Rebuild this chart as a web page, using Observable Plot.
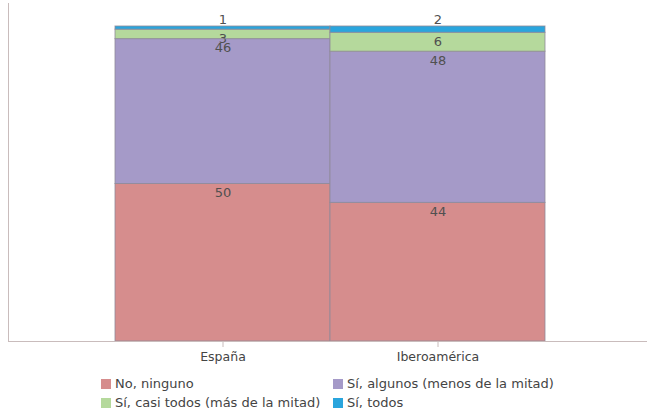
<!DOCTYPE html>
<html>
<head>
<meta charset="utf-8">
<script src="https://cdn.jsdelivr.net/npm/d3@7"></script>
<script src="https://cdn.jsdelivr.net/npm/@observablehq/plot@0.6"></script>
<style>
  body { margin: 0; background: #fff; font-family: "DejaVu Sans", Verdana, sans-serif; }
  #chart svg { display: block; }
  .legend { position: relative; height: 44px; font-size: 13px; color: #444; }
  .item { position: absolute; display: flex; align-items: center; white-space: nowrap; }
  .sw { width: 10px; height: 10px; margin-right: 4px; }
</style>
</head>
<body>
<div id="chart"></div>
<div class="legend" id="legend"></div>
<script>
const regions = ["España", "Iberoamérica"];
const answers = ["No, ninguno", "Sí, algunos (menos de la mitad)", "Sí, casi todos (más de la mitad)", "Sí, todos"];
const espana = [50, 46, 3, 1];
const iberoamerica = [44, 48, 6, 2];
const colors = ["#d68d8d", "#a59ac8", "#b5d99c", "#2aa5dd"];

const seriesByRegion = [espana, iberoamerica];
const data = [];
regions.forEach((r, i) => answers.forEach((a, j) => data.push({region: r, answer: a, value: seriesByRegion[i][j]})));

const W = 647, H = 368;
const chart = Plot.plot({
  width: W,
  height: H,
  marginLeft: 8,
  marginRight: 0,
  marginTop: 3,
  marginBottom: 27,
  style: {fontFamily: "DejaVu Sans, Verdana, sans-serif", fontSize: "12px", color: "#444", background: "#fff"},
  x: {domain: regions, paddingInner: 0, paddingOuter: 0.483, align: 0.514, label: null},
  y: {domain: [0, 100], range: [341, 26], axis: null},
  color: {domain: answers, range: colors},
  marks: [
    Plot.barY(data, Plot.stackY({order: null}, {x: "region", y: "value", fill: "answer", stroke: "#8f8a99", strokeWidth: 1, strokeOpacity: 0.8, inset: 0})),
    Plot.text(data.filter(d => d.value >= 3), Plot.stackY2({order: null}, {x: "region", y: "value", z: "answer", text: d => String(d.value), dy: 9, fill: "#505050", fontSize: 13})),
    Plot.text(data.filter(d => d.value < 3), Plot.stackY2({x: "region", y: d => 100, text: d => String(d.value), dy: -7, fill: "#505050", fontSize: 13})),
    Plot.frame({anchor: "left", stroke: "#c9bcbc"}),
    Plot.ruleY([0], {stroke: "#c9bcbc"}),
    Plot.axisX({tickSize: 6, tickPadding: 5, stroke: "#c9bcbc", fill: "#444", fontSize: 12.5, label: null})
  ]
});
document.getElementById("chart").appendChild(chart);

const legendPos = [[101, 8], [333, 8], [101, 27], [333, 27]];
const legend = document.getElementById("legend");
answers.forEach((a, i) => {
  const it = document.createElement("div");
  it.className = "item";
  it.style.left = legendPos[i][0] + "px";
  it.style.top = legendPos[i][1] + "px";
  it.innerHTML = `<span class="sw" style="background:${colors[i]}"></span><span>${a}</span>`;
  legend.appendChild(it);
});
</script>
</body>
</html>
